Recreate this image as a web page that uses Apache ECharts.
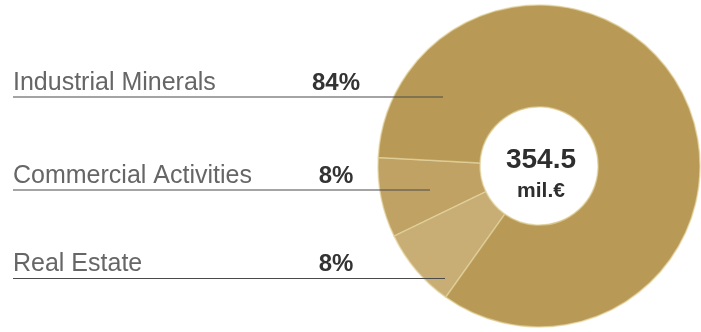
<!DOCTYPE html>
<html><head><meta charset="utf-8">
<script src="https://cdn.jsdelivr.net/npm/echarts@6/dist/echarts.min.js"></script>
<style>html,body{margin:0;padding:0;background:#fff}#c{width:701px;height:332px}</style>
</head><body><div id="c"></div>
<script>
// Data
const categories = ['Commercial Activities', 'Real Estate', 'Industrial Minerals'];
const shares = [8, 8, 84];
const totalValue = '354.5';
const totalUnit = 'mil.€';

// Styles / layout
const sliceColors = ['#bfa264', '#c8ae74', '#b89a56'];
const labelSlots = {
  'Industrial Minerals': { ty: 83, ly: 97, ex: 443 },
  'Commercial Activities': { ty: 176, ly: 190, ex: 430 },
  'Real Estate': { ty: 264, ly: 278.5, ex: 445 }
};
const LEFT = 13;
const CENTER = [539, 166];
const RADIUS = [59, 161];
const START = 177;

const seriesData = categories.map((c, i) => ({ name: c, value: shares[i], itemStyle: { color: sliceColors[i] } }));

const chart = echarts.init(document.getElementById('c'), null, { renderer: 'canvas' });
chart.setOption({
  animation: false,
  backgroundColor: '#fff',
  graphic: [
    { type: 'text', x: 541, y: 160, z: 10,
      style: { text: totalValue, align: 'center', verticalAlign: 'middle', font: 'bold 28px "Liberation Sans", Arial, sans-serif', fill: '#2e2e2e' } },
    { type: 'text', x: 541, y: 191, z: 10,
      style: { text: totalUnit, align: 'center', verticalAlign: 'middle', font: 'bold 21px "Liberation Sans", Arial, sans-serif', fill: '#2e2e2e' } }
  ],
  series: [{
    type: 'pie',
    z: 2,
    center: CENTER,
    radius: RADIUS,
    startAngle: START,
    clockwise: false,
    silent: true,
    itemStyle: { borderColor: 'rgba(228,212,160,0.7)', borderWidth: 1.5 },
    label: { show: false },
    labelLine: { show: false },
    data: seriesData
  }, {
    type: 'pie',
    z: 5,
    center: CENTER,
    radius: RADIUS,
    startAngle: START,
    clockwise: false,
    silent: true,
    avoidLabelOverlap: false,
    itemStyle: { color: 'rgba(0,0,0,0)', borderWidth: 0 },
    label: {
      show: true,
      position: 'outside',
      formatter: '{n|{b}}{p|{c}%}',
      rich: {
        n: { width: 297, align: 'left', fontFamily: '"Liberation Sans", Arial, sans-serif', fontSize: 25, color: '#666' },
        p: { width: 52, align: 'center', fontFamily: '"Liberation Sans", Arial, sans-serif', fontSize: 24, fontWeight: 'bold', color: '#333' }
      }
    },
    labelLine: { show: true, lineStyle: { color: '#4a4a4a', width: 1.2 } },
    labelLayout: function (params) {
      const s = labelSlots[categories[params.dataIndex]];
      return {
        x: LEFT, y: s.ty, align: 'left', verticalAlign: 'middle',
        labelLinePoints: [[s.ex, s.ly], [LEFT + 200, s.ly], [LEFT, s.ly]]
      };
    },
    data: categories.map((c, i) => ({ name: c, value: shares[i] }))
  }]
});
</script></body></html>
